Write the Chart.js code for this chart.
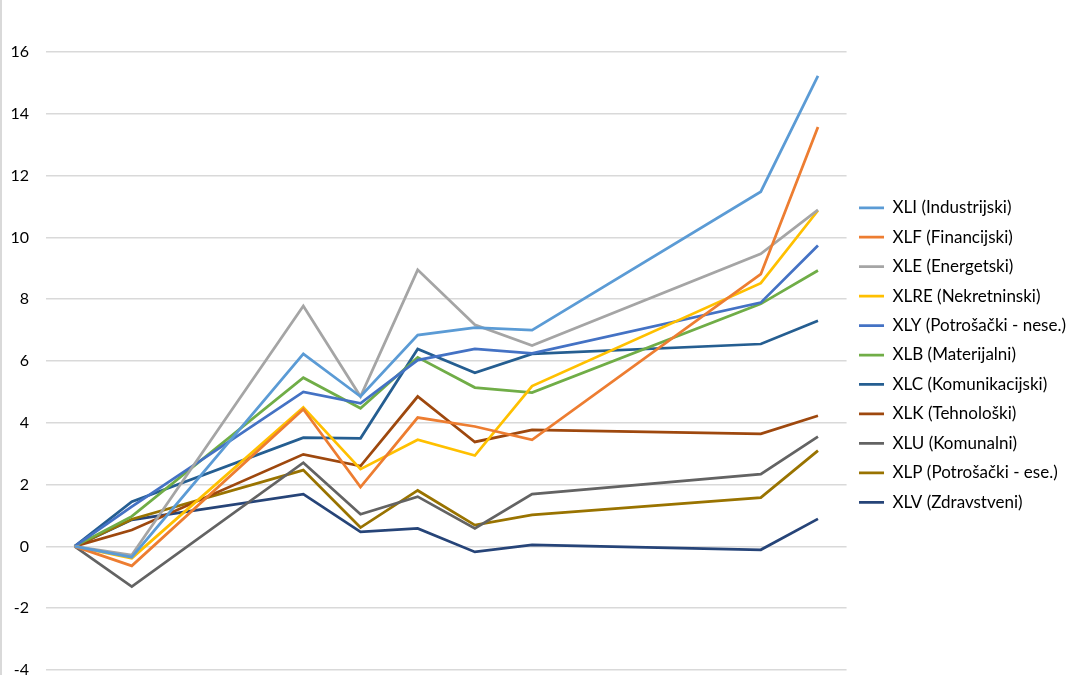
<!DOCTYPE html>
<html>
<head>
<meta charset="utf-8">
<script src="https://cdn.jsdelivr.net/npm/chart.js@4"></script>
<style>
html,body{margin:0;padding:0;background:#fff;}
#wrap{position:relative;width:1080px;height:675px;}
</style>
</head>
<body>
<div id="wrap"><canvas id="c" width="1080" height="675"></canvas></div>
<script>
// x positions (trading-day index, gaps kept as on a date axis)
const xIndex = [0, 1, 4, 5, 6, 7, 8, 12, 13];

const seriesNames = [
  "XLI (Industrijski)",
  "XLF (Financijski)",
  "XLE (Energetski)",
  "XLRE (Nekretninski)",
  "XLY (Potrošački - nese.)",
  "XLB (Materijalni)",
  "XLC (Komunikacijski)",
  "XLK (Tehnološki)",
  "XLU (Komunalni)",
  "XLP (Potrošački - ese.)",
  "XLV (Zdravstveni)"
];

const seriesColors = [
  "#5B9BD5", "#ED7D31", "#A5A5A5", "#FFC000", "#4472C4", "#70AD47",
  "#255E91", "#9E480E", "#636363", "#997300", "#264478"
];

const XLI  = [0, -0.35, 6.23, 4.85, 6.84, 7.08, 7.00, 11.48, 15.23];
const XLF  = [0, -0.63, 4.44, 1.92, 4.17, 3.88, 3.45, 8.81, 13.57];
const XLE  = [0, -0.28, 7.78, 4.85, 8.95, 7.17, 6.50, 9.47, 10.89];
const XLRE = [0, -0.38, 4.50, 2.50, 3.45, 2.94, 5.19, 8.52, 10.87];
const XLY  = [0, 1.29, 5.00, 4.63, 6.03, 6.39, 6.25, 7.89, 9.74];
const XLB  = [0, 0.97, 5.46, 4.47, 6.12, 5.14, 4.98, 7.85, 8.93];
const XLC  = [0, 1.45, 3.52, 3.50, 6.39, 5.62, 6.23, 6.55, 7.30];
const XLK  = [0, 0.53, 2.98, 2.60, 4.85, 3.38, 3.77, 3.64, 4.23];
const XLU  = [0, -1.30, 2.71, 1.04, 1.61, 0.58, 1.69, 2.34, 3.55];
const XLP  = [0, 0.88, 2.47, 0.61, 1.81, 0.69, 1.02, 1.58, 3.10];
const XLV  = [0, 0.86, 1.69, 0.47, 0.58, -0.18, 0.05, -0.11, 0.89];

const seriesValues = [XLI, XLF, XLE, XLRE, XLY, XLB, XLC, XLK, XLU, XLP, XLV];

const yTicks = [-4, -2, 0, 2, 4, 6, 8, 10, 12, 14, 16];

const datasets = seriesNames.map((name, i) => ({
  label: name,
  data: seriesValues[i].map((v, j) => ({x: xIndex[j], y: v})),
  borderColor: seriesColors[i],
  backgroundColor: seriesColors[i],
  borderWidth: 2.75,
  pointRadius: 0,
  pointHoverRadius: 0,
  tension: 0,
  fill: false
}));

const frame = {
  id: 'frame',
  beforeDraw(chart) {
    const ctx = chart.ctx;
    ctx.save();
    ctx.fillStyle = '#d9d9d9';
    ctx.fillRect(0, 0, 2, chart.height);
    ctx.restore();
  }
};

new Chart(document.getElementById('c'), {
  type: 'line',
  data: { datasets },
  plugins: [frame],
  options: {
    responsive: false,
    animation: false,
    layout: { padding: { left: 0, right: 4, top: 40, bottom: 5 } },
    plugins: {
      title: { display: true, text: '', fullSize: false, font: { size: 1, lineHeight: 1 }, padding: { top: 11, bottom: 0 } },
      tooltip: { enabled: false },
      legend: {
        position: 'right',
        align: 'center',
        labels: {
          usePointStyle: true,
          pointStyle: 'line',
          pointStyleWidth: 25,
          padding: 12.45,
          color: '#000',
          font: { family: 'Lato', size: 17 }
        }
      }
    },
    scales: {
      x: {
        type: 'linear',
        min: -0.5,
        max: 13.5,
        display: false
      },
      y: {
        min: -4,
        max: 16,
        afterBuildTicks(scale) { scale.ticks = yTicks.map(v => ({ value: v })); },
        afterFit(scale) { scale.width = 46; scale.paddingTop = 0; scale.paddingBottom = 0; },
        grid: { color: '#d9d9d9', lineWidth: 1.5, drawTicks: false },
        border: { display: false },
        ticks: {
          padding: 17,
          color: '#000',
          font: { family: 'Lato', size: 16 }
        }
      }
    }
  }
});
</script>
</body>
</html>
